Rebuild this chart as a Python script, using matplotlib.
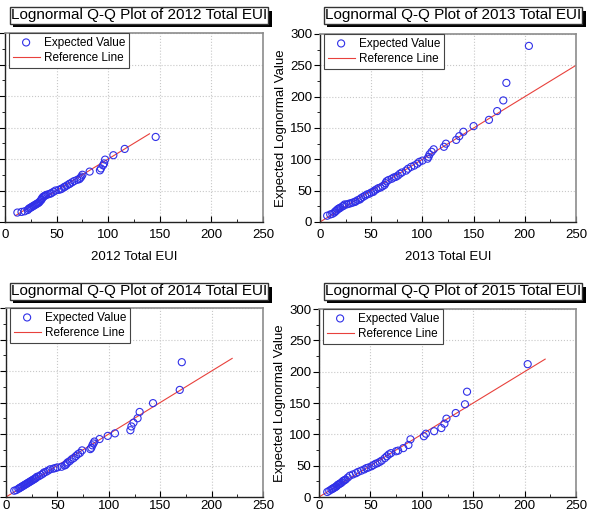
import matplotlib
matplotlib.use("Agg")
import matplotlib.pyplot as plt
from matplotlib.ticker import MultipleLocator
from matplotlib.patches import Rectangle
from matplotlib.transforms import IdentityTransform

plt.rcParams['font.family'] = ['Liberation Sans', 'DejaVu Sans']

years = ["2012", "2013", "2014", "2015"]

# Total EUI (sorted data) and expected lognormal value
eui_2012 = [12, 16, 19, 22, 23, 24, 25, 26, 27, 28, 29, 30, 31, 32, 33, 34, 35, 35.5, 36, 37,
            38, 39, 40, 42, 44, 45, 47, 49, 52, 54, 55, 57, 58, 60, 62, 63, 65, 67, 70, 72,
            73, 74, 75, 82, 92, 93, 95, 96, 97, 105, 116, 146]
exp_2012 = [15, 16, 17, 19, 21, 22, 23, 24, 25, 26, 27, 28, 29, 30, 31, 33, 35, 36, 38, 40,
            41, 42, 43, 44, 45, 46, 48, 50, 51, 52, 53, 55, 56, 58, 60, 61, 63, 65, 67, 68,
            70, 72, 75, 80, 82, 85, 90, 93, 99, 106, 116, 135]

eui_2013 = [7, 10, 12, 14, 15, 16, 17, 18, 19, 20, 22, 23, 24, 26, 28, 30, 32, 34, 35, 37,
            39, 40, 42, 44, 46, 48, 50, 52, 53, 55, 57, 59, 61, 63, 64, 65, 67, 70, 72, 74,
            76, 78, 80, 84, 86, 89, 92, 95, 97, 100, 105, 106, 107, 109, 111, 121, 123, 133,
            136, 140, 150, 165, 173, 179, 182, 204]
exp_2013 = [10, 12, 13, 15, 17, 18, 20, 21, 22, 23, 25, 26, 28, 28, 29, 30, 31, 32, 33, 35,
            36, 38, 40, 42, 44, 45, 47, 48, 50, 52, 54, 55, 57, 59, 62, 65, 67, 69, 71, 72,
            74, 77, 79, 82, 85, 88, 90, 93, 96, 98, 101, 104, 108, 112, 116, 120, 125, 131,
            137, 144, 153, 163, 177, 194, 222, 281]

eui_2014 = [8, 10, 12, 13, 14, 15, 16, 17, 18, 19, 20, 21, 22, 23, 24, 25, 26, 27, 28, 29,
            30, 32, 34, 36, 37, 39, 41, 43, 46, 48, 50, 54, 57, 58, 59, 60, 62, 64, 66, 68,
            70, 72, 74, 82, 83, 84, 85, 86, 91, 99, 106, 121, 122, 124, 128, 130, 143, 169, 171]
exp_2014 = [10, 11, 13, 14, 15, 16, 17, 18, 19, 20, 21, 22, 23, 24, 25, 26, 27, 28, 29, 30,
            32, 33, 35, 37, 39, 40, 42, 44, 45, 46, 47, 48, 50, 51, 53, 55, 57, 60, 62, 65,
            68, 70, 74, 76, 78, 82, 85, 88, 92, 97, 101, 106, 112, 118, 125, 135, 149, 170, 214]

eui_2015 = [8, 10, 12, 13, 14, 15, 16, 17, 18, 19, 20, 21, 22, 23, 24, 25, 26, 28, 30, 33,
            36, 38, 41, 44, 46, 48, 51, 53, 55, 57, 59, 61, 64, 66, 68, 70, 75, 77, 82, 87,
            89, 102, 104, 112, 119, 122, 124, 133, 142, 144, 203]
exp_2015 = [8, 10, 12, 13, 14, 15, 16, 17, 19, 20, 21, 22, 23, 25, 26, 27, 28, 31, 34, 36,
            38, 40, 42, 44, 46, 47, 49, 51, 53, 54, 56, 58, 62, 65, 68, 70, 73, 74, 78, 83,
            92, 97, 101, 105, 110, 117, 125, 134, 148, 168, 212]

# reference line y = x, start and end
ref_lines = {"2012": (10, 140), "2013": (0, 250), "2014": (0, 220), "2015": (0, 220)}

data = {"2012": (eui_2012, exp_2012), "2013": (eui_2013, exp_2013),
        "2014": (eui_2014, exp_2014), "2015": (eui_2015, exp_2015)}

W, H = 594, 513
fig = plt.figure(figsize=(W / 100, H / 100), dpi=100)

# axes boxes in pixels: left, top, right, bottom
boxes = {"2012": (5, 33, 263, 222), "2013": (320, 34, 576, 222),
         "2014": (6, 308, 263, 497), "2015": (319, 309, 576, 497)}
title_pos = {"2012": (139, 15.5), "2013": (453, 15.5), "2014": (139, 291.5), "2015": (453, 291.5)}

titles = []
for yr in years:
    l, t, r, b = boxes[yr]
    ax = fig.add_axes([l / W, 1 - b / H, (r - l) / W, (b - t) / H])
    x, y = data[yr]
    ax.scatter(x, y, s=26, facecolors='none', edgecolors='#3030e8', linewidths=0.8,
               label="Expected Value", zorder=3)
    x0, x1 = ref_lines[yr]
    ax.plot([x0, x1], [x0, x1], color='#e8413c', lw=0.8, label="Reference Line", zorder=2)

    ax.set_xlim(0, 250)
    ax.set_ylim(0, 300)
    ax.xaxis.set_major_locator(MultipleLocator(50))
    ax.xaxis.set_minor_locator(MultipleLocator(25))
    ax.yaxis.set_major_locator(MultipleLocator(50))
    ax.yaxis.set_minor_locator(MultipleLocator(25))
    ax.grid(True, which='major', color='#c8c8c8', linestyle=':', linewidth=0.8)
    xpad = 5 if yr in ("2012", "2013") else 2.5
    ax.tick_params(axis='x', which='major', direction='in', length=4, labelsize=9.5, pad=xpad)
    ax.tick_params(axis='x', which='minor', direction='in', length=2)
    ax.tick_params(axis='y', which='major', direction='out', length=4, labelsize=9.5, pad=1.5)
    ax.tick_params(axis='y', which='minor', direction='out', length=2)
    for side in ['left', 'bottom']:
        ax.spines[side].set_color('#222222')
        ax.spines[side].set_linewidth(1.0)
    for side in ['top', 'right']:
        ax.spines[side].set_color('#8c8c8c')
        ax.spines[side].set_linewidth(1.2)

    # the picture is cropped: left panels lose their y labels, bottom panels their x titles
    if yr in ("2012", "2013"):
        ax.set_xlabel(yr + " Total EUI", fontsize=9.5, labelpad=7)
    if yr in ("2013", "2015"):
        ax.set_ylabel("Expected Lognormal Value", fontsize=9.5, labelpad=2)
    else:
        ax.tick_params(axis='y', labelleft=False)

    leg = ax.legend(loc='upper left', bbox_to_anchor=(4 / (r - l), 1.0), borderaxespad=0,
                    fontsize=8.5, fancybox=False, framealpha=1, edgecolor='#444444',
                    handlelength=2.3, handletextpad=0.4, borderpad=0.3, labelspacing=0.3)
    leg.get_frame().set_linewidth(0.8)

    cx, cy = title_pos[yr]
    titles.append(fig.text(cx / W, 1 - cy / H, "Lognormal Q-Q Plot of " + yr + " Total EUI",
                           ha='center', va='center', fontsize=11, color='black', zorder=5,
                           bbox=dict(boxstyle='square,pad=0.08', fc='white', ec='#333333', lw=1)))

# black drop shadow behind each boxed title
fig.canvas.draw()
renderer = fig.canvas.get_renderer()
for t in titles:
    bb = t.get_bbox_patch().get_window_extent(renderer)
    fig.add_artist(Rectangle((bb.x0 + 3.5, bb.y0 - 3.5), bb.width, bb.height, fc='black',
                             ec='none', transform=IdentityTransform(), zorder=4))

fig.savefig("out.png", dpi=100)
